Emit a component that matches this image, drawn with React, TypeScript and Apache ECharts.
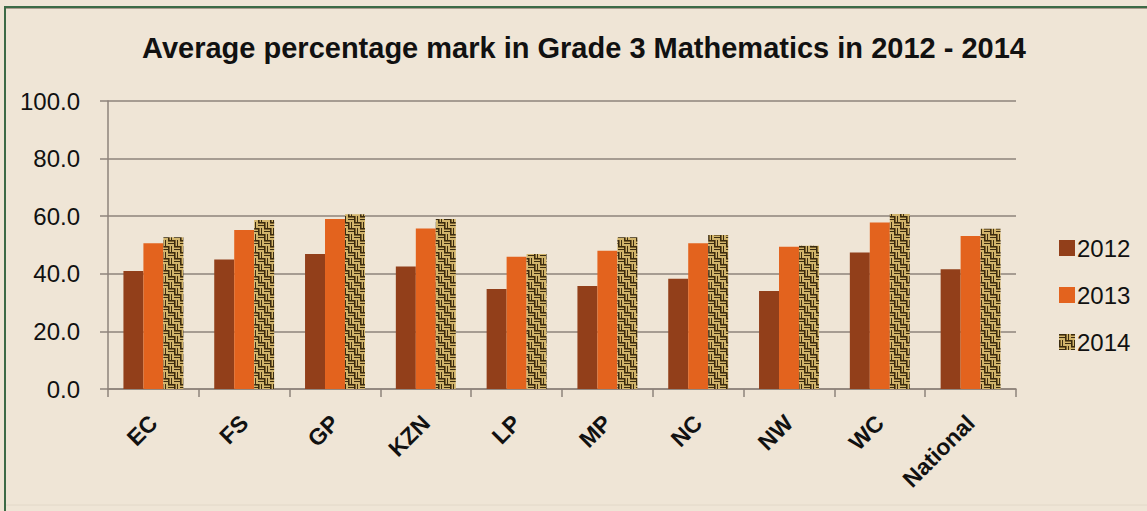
import React, { useEffect, useRef } from "react";
import * as echarts from "echarts";

const categories = ["EC", "FS", "GP", "KZN", "LP", "MP", "NC", "NW", "WC", "National"];
const values2012 = [41.0, 45.0, 46.9, 42.5, 34.7, 35.8, 38.3, 34.0, 47.4, 41.6];
const values2013 = [50.6, 55.2, 59.0, 55.7, 45.9, 48.0, 50.6, 49.4, 57.8, 53.1];
const values2014 = [52.7, 58.7, 60.7, 59.0, 46.9, 52.7, 53.5, 49.7, 60.8, 55.6];
const seriesNames = ["2012", "2013", "2014"];
const yTicks = [0, 20, 40, 60, 80, 100];

function makeWeave(): HTMLCanvasElement {
  const c = document.createElement("canvas");
  c.width = 12;
  c.height = 12;
  const g = c.getContext("2d")!;
  g.fillStyle = "#D2B56C";
  g.fillRect(0, 0, 12, 12);
  g.fillStyle = "#3A2B10";
  // basket weave: horizontal strands in TL & BR, vertical in TR & BL
  g.fillRect(0, 0, 6, 1);
  g.fillRect(0, 3, 6, 1);
  g.fillRect(6, 6, 6, 1);
  g.fillRect(6, 9, 6, 1);
  g.fillRect(6, 0, 1, 6);
  g.fillRect(9, 0, 1, 6);
  g.fillRect(0, 6, 1, 6);
  g.fillRect(3, 6, 1, 6);
  g.fillStyle = "#7E6430";
  g.fillRect(0, 1, 6, 1);
  g.fillRect(6, 7, 6, 1);
  g.fillRect(7, 0, 1, 6);
  g.fillRect(1, 6, 1, 6);
  return c;
}

export default function App() {
  const ref = useRef<HTMLDivElement>(null);
  useEffect(() => {
    document.body.style.margin = "0";
    const chart = echarts.init(ref.current!, null, { renderer: "svg" });
    const weave = makeWeave();
    const font = "'Liberation Sans', Arial, sans-serif";
    const gridColor = "#8E837B";
    chart.setOption({
      animation: false,
      backgroundColor: "#EFE5D6",
      title: {
        text: "Average percentage mark in Grade 3 Mathematics in 2012 - 2014",
        left: 579,
        textAlign: "center",
        top: 28,
        textStyle: { fontFamily: font, fontWeight: "bold", fontSize: 29, color: "#111" },
      },
      legend: {
        orient: "vertical",
        left: 1054,
        top: 231,
        itemWidth: 16,
        itemHeight: 16,
        itemGap: 23,
        icon: "rect",
        data: seriesNames,
        textStyle: { fontFamily: font, fontSize: 24, color: "#111", lineHeight: 24, padding: [0, 0, 0, -3] },
      },
      grid: { left: 108, right: 131, top: 101, bottom: 122, containLabel: false },
      xAxis: {
        type: "category",
        data: categories,
        axisLine: { lineStyle: { color: gridColor, width: 1.5 } },
        axisTick: { show: true, length: 8, lineStyle: { color: gridColor, width: 1.5 } },
        axisLabel: {
          rotate: 45,
          margin: 30,
          fontFamily: font,
          fontWeight: "bold",
          fontSize: 23,
          color: "#111",
        },
      },
      yAxis: {
        type: "value",
        min: 0,
        max: 100,
        interval: 20,
        axisLine: { show: true, lineStyle: { color: gridColor, width: 1.5 } },
        axisTick: { show: true, length: 8, inside: false, lineStyle: { color: gridColor, width: 1.5 } },
        splitLine: { show: true, lineStyle: { color: gridColor, width: 1.5 } },
        axisLabel: {
          margin: 28,
          fontFamily: font,
          fontSize: 24,
          color: "#111",
          formatter: (v: number) => (yTicks.includes(v) ? v.toFixed(1) : ""),
        },
      },
      series: [
        {
          name: seriesNames[0],
          type: "bar",
          data: values2012,
          barGap: "0%",
          barCategoryGap: "34%",
          itemStyle: { color: "#923F1A" },
        },
        {
          name: seriesNames[1],
          type: "bar",
          data: values2013,
          barGap: "0%",
          barCategoryGap: "34%",
          itemStyle: { color: "#E3631E" },
        },
        {
          name: seriesNames[2],
          type: "bar",
          data: values2014,
          barGap: "0%",
          barCategoryGap: "34%",
          itemStyle: { color: { image: weave, repeat: "repeat" } as any },
        },
      ],
      graphic: [
        { type: "line", shape: { x1: 4, y1: 7, x2: 1147, y2: 7 }, style: { stroke: "#3C6A46", lineWidth: 2 } },
        { type: "line", shape: { x1: 5, y1: 8.5, x2: 1147, y2: 8.5 }, style: { stroke: "#A99C8C", lineWidth: 1 } },
        { type: "line", shape: { x1: 5, y1: 6, x2: 5, y2: 511 }, style: { stroke: "#3C6A46", lineWidth: 2 } },
        { type: "line", shape: { x1: 6, y1: 505, x2: 1147, y2: 505 }, style: { stroke: "#E2D8C8", lineWidth: 1 } },
      ],
    });
    return () => chart.dispose();
  }, []);
  return <div ref={ref} style={{ width: 1147, height: 511 }} />;
}
